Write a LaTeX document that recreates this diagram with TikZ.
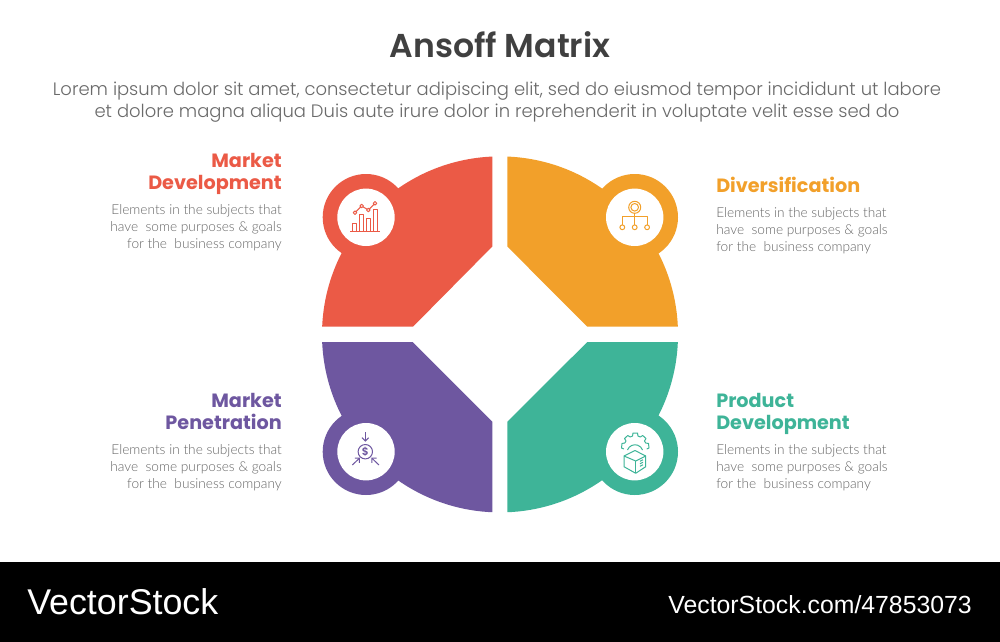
\documentclass[tikz,border=0pt]{standalone}
\usepackage{fontspec}
\setmainfont{Poppins}
\newfontfamily\plight{Poppins Light}
\newfontfamily\psemi{Poppins SemiBold}
\newfontfamily\pbold{Poppins}[BoldFont={Poppins Bold}]
\newfontfamily\lalight{Lato Light}
\newfontfamily\vsfont{Liberation Sans}
\usetikzlibrary{arrows.meta}
\definecolor{cred}{HTML}{EB5A46}
\definecolor{corange}{HTML}{F2A02A}
\definecolor{cpurple}{HTML}{6E57A0}
\definecolor{cgreen}{HTML}{3EB498}
\definecolor{ctitle}{HTML}{404040}
\definecolor{csub}{HTML}{6A6A6A}
\definecolor{cbody}{HTML}{666666}
\tikzset{
  headR/.style={anchor=east,align=right,inner sep=0pt,font=\pbold\bfseries\fontsize{14.4}{16.8}\selectfont},
  headL/.style={anchor=west,align=left,inner sep=0pt,font=\pbold\bfseries\fontsize{14.4}{16.8}\selectfont},
  bodyR/.style={anchor=east,align=right,inner sep=0pt,text=cbody,font=\lalight\fontsize{10.26}{12.75}\selectfont},
  bodyL/.style={anchor=west,align=left,inner sep=0pt,text=cbody,font=\lalight\fontsize{10.26}{12.75}\selectfont},
  ico/.style={line width=0.75pt,fill=none,line join=round},
}
\begin{document}
\begin{tikzpicture}[x=0.75pt,y=-0.75pt]
\useasboundingbox (0,0) rectangle (1000,642);
\fill[white] (0,0) rectangle (1000,642);
\fill[black] (0,562) rectangle (1000,642);
% quadrants
\begin{scope}
 \clip (492.3,100) -- (492.3,246.5) -- (413,326.7) -- (300,326.7) -- (300,100) -- cycle;
 \fill[cred] (500,334.4) circle[radius=178];
\end{scope}
\begin{scope}
 \clip (507.3,100) -- (507.3,246.5) -- (587.3,326.7) -- (700,326.7) -- (700,100) -- cycle;
 \fill[corange] (500,334.4) circle[radius=178];
\end{scope}
\begin{scope}
 \clip (492.3,560) -- (492.3,421.7) -- (412.7,342) -- (300,342) -- (300,560) -- cycle;
 \fill[cpurple] (500,334.4) circle[radius=178];
\end{scope}
\begin{scope}
 \clip (507.3,560) -- (507.3,421.7) -- (587.3,342) -- (700,342) -- (700,560) -- cycle;
 \fill[cgreen] (500,334.4) circle[radius=178];
\end{scope}
% rings
\foreach \cx/\cy/\col in {366/217.3/cred,634.7/217.3/corange,366/451.7/cpurple,634.7/451.7/cgreen}{
  \fill[\col] (\cx,\cy) circle[radius=43.3];
  \fill[white] (\cx,\cy) circle[radius=28.7];
}
% icon red
\begin{scope}[ico,draw=cred]
 \draw (350,231.3) -- (380,231.3);
 \draw (352.7,231.3) rectangle (356.7,223);
 \draw (359.3,231.3) rectangle (363.3,214.3);
 \draw (366,231.3) rectangle (370,218.3);
 \draw (373,231.3) rectangle (377,209.3);
 \draw (355,212.7) -- (361.7,206) -- (368.3,210) -- (375,203.3);
 \foreach \p in {(355,212.7),(361.7,206),(368.3,210),(375,203.3)}
   \filldraw[fill=white] \p circle[radius=1.8];
\end{scope}
% icon orange
\begin{scope}[ico,draw=corange]
 \draw (634.7,207.3) circle[radius=6];
 \draw (634.7,207.3) circle[radius=3.8];
 \draw (634.7,213.3) -- (634.7,225);
 \draw (622.3,225) -- (622.3,216) -- (647.1,216) -- (647.1,225);
 \foreach \x in {622.3,634.7,647.1} \draw (\x,227.3) circle[radius=2.4];
\end{scope}
% icon purple
\begin{scope}[ico,draw=cpurple]
 \draw (365.3,451.7) circle[radius=7.2];
 \node[text=cpurple,inner sep=0pt,font=\psemi\fontsize{8}{8}\selectfont] (dollar) at (365.3,451.7) {\$};
 \draw[-{Straight Barb[length=2.5pt,width=5pt]}] (365.3,432.3) -- (365.3,441.7);
 \draw[-{Straight Barb[length=2.5pt,width=5pt]}] (352.3,465) -- (360,457.7);
 \draw[-{Straight Barb[length=2.5pt,width=5pt]}] (379,465) -- (371.3,457.7);
\end{scope}
% icon green
\begin{scope}[ico,draw=cgreen]
 \draw (624,456) -- (635.7,461) -- (645.7,456) -- (645.7,466.7) -- (635.7,473.3) -- (624,466.7) -- cycle;
 \draw (624,456) -- (635,450.5) -- (645.7,456);
 \draw (635.7,461) -- (635.7,473.3);
 \draw (640,461.3) -- (643,459.8) (640,463.8) -- (643,462.3) (640,466.3) -- (643,464.8);
 \draw (627.5,450) arc[start angle=200,end angle=340,radius=8];
 \draw (623.8,449) -- (621.5,448) -- (622,443.5) -- (624.8,443) -- (626,441) -- (624.5,438.5) -- (627.8,435.5) -- (630.2,437) -- (632.5,436) -- (633,433) -- (637.5,433) -- (638,436) -- (640.3,437) -- (642.7,435.5) -- (646,438.5) -- (644.5,441) -- (645.7,443) -- (648.5,443.5) -- (649,448) -- (646.7,449);
\end{scope}
% texts
\node[inner sep=0pt,text=ctitle,font=\psemi\fontsize{24.8}{30}\selectfont] (title) at (500,44.5) {Ansoff Matrix};
\node[inner sep=0pt,align=center,text=csub,font=\plight\fontsize{13.48}{16.5}\selectfont] (sub) at (497,102) {Lorem ipsum dolor sit amet, consectetur adipiscing elit, sed do eiusmod tempor incididunt ut labore\\et dolore magna aliqua Duis aute irure dolor in reprehenderit in voluptate velit esse sed do};
\node[headR,text=cred] (h1) at (282,174) {Market\\Development};
\node[bodyR] (b1) at (282,227.5) {Elements in the subjects that\\have\ \ some purposes \& goals\\for the\ \ business company};
\node[headL,text=corange] (h2) at (716,185) {Diversification};
\node[bodyL] (b2) at (716,230.5) {Elements in the subjects that\\have\ \ some purposes \& goals\\for the\ \ business company};
\node[headR,text=cpurple] (h3) at (282,411.5) {Market\\Penetration};
\node[bodyR] (b3) at (282,467.5) {Elements in the subjects that\\have\ \ some purposes \& goals\\for the\ \ business company};
\node[headL,text=cgreen] (h4) at (716,414) {Product\\Development};
\node[bodyL] (b4) at (716,467.5) {Elements in the subjects that\\have\ \ some purposes \& goals\\for the\ \ business company};
\node[anchor=west,inner sep=0pt,text=white,font=\vsfont\fontsize{26.85}{30}\selectfont] (vs) at (27,601.5) {VectorStock};
\node[anchor=east,inner sep=0pt,text=white,font=\vsfont\fontsize{18.6}{22}\selectfont] (url) at (972,604.5) {VectorStock.com/47853073};
\end{tikzpicture}
\end{document}
